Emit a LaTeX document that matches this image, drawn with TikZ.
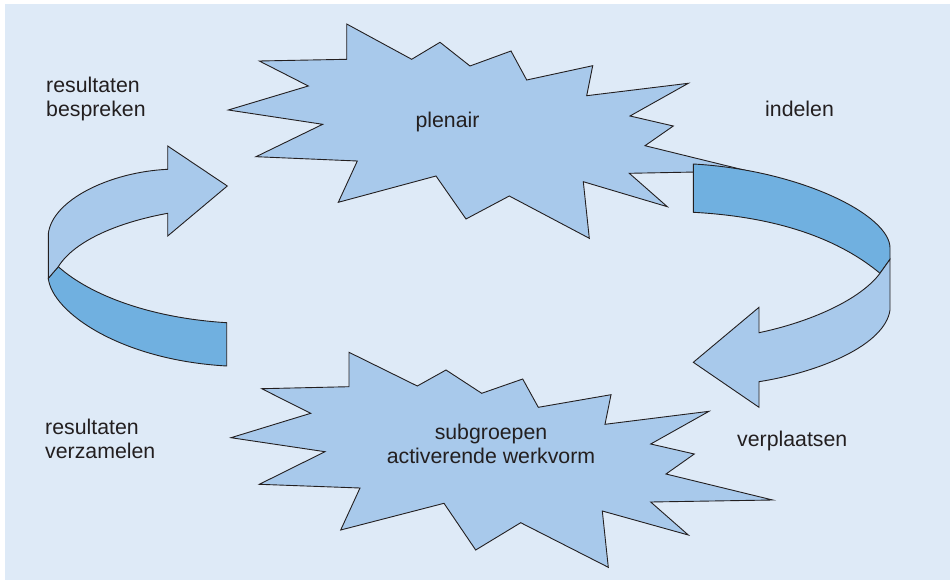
\documentclass[tikz,border=0pt]{standalone}
\usepackage{fontspec}
\setmainfont{Liberation Sans}
\definecolor{bgblue}{HTML}{DEEAF7}
\definecolor{lightband}{HTML}{A8C9EB}
\definecolor{darkband}{HTML}{70B0E0}
\definecolor{edgegray}{HTML}{231F20}
\begin{document}
\begin{tikzpicture}[x=1pt,y=-1pt,%
% common options for the star shapes:
burst/.style = {draw=edgegray, fill=lightband, line width=0.9pt, line join=miter},
% common options for the ribbon arrows:
ribbon/.style = {draw=edgegray, line width=0.9pt, line join=miter},
% common options for the labels:
word/.style = {inner sep=0, text=edgegray, font=\fontsize{21.3}{24}\selectfont}]
\useasboundingbox (0,0) rectangle (952,580);
\fill[white] (0,0) rectangle (952,580);
\fill[bgblue] (5,4) rectangle (950,580);
% upper star
\draw[burst] (346.7,24) -- (411.7,59.3) -- (440,42.3) -- (470,66) -- (511,51)
  -- (526.7,80) -- (592.7,65.7) -- (586.7,95.7) -- (688.3,83.3) -- (630,116)
  -- (673.3,126) -- (645,145.7) -- (748,171) -- (629.3,173.3) -- (667.3,206.7)
  -- (583.3,181.7) -- (589.3,238.3) -- (509.3,196) -- (466,219) -- (436,176)
  -- (338.3,202.3) -- (357.3,161) -- (256,156.7) -- (322.7,124.3) -- (228.3,110)
  -- (308.3,86) -- (259.3,61) -- (346.7,59.3) -- cycle;
% lower star
\draw[burst] (349,352.3) -- (417.3,386) -- (446,370) -- (481.7,393.3) -- (522.7,379)
  -- (538.3,407.3) -- (611,394.7) -- (605,424.3) -- (709,411.3) -- (650.7,444)
  -- (694.3,454) -- (666,474) -- (772.7,500) -- (650.7,502) -- (688.3,535)
  -- (602.3,511) -- (608.3,567.3) -- (520.7,522.7) -- (475.7,550) -- (444,503.3)
  -- (340.7,530) -- (360,488) -- (259.3,484.3) -- (325,451.7) -- (231,437.7)
  -- (310.7,413.3) -- (261.7,388.7) -- (349,386.7) -- cycle;
% right ribbon: back side, then front side with the head
\draw[ribbon, fill=darkband] (693.3,164) .. controls (800,170) and (890,215) .. (890,248)
  -- (890,259.3) -- (880,273.3) .. controls (840,240) and (780,217) .. (693.3,212.3) -- cycle;
\draw[ribbon, fill=lightband] (890,259.3) -- (890,310) .. controls (885,345) and (820,372) .. (759,381.7)
  -- (759,407.3) -- (693.3,362.3) -- (759,307.3) -- (759,332.7)
  .. controls (810,322) and (860,300) .. (880,273.3) -- cycle;
% left ribbon: back side, then front side with the head
\draw[ribbon, fill=darkband] (48.3,278.3) .. controls (52,312) and (120,360) .. (226.7,366)
  -- (226.7,322.7) .. controls (150,318) and (90,295) .. (58.3,266.7) -- cycle;
\draw[ribbon, fill=lightband] (48.3,278.3) -- (48.3,234) .. controls (52,200) and (110,172) .. (167.7,169.3)
  -- (167.7,146) -- (227.3,186) -- (167.7,236) -- (167.7,213.3)
  .. controls (120,222) and (75,240) .. (58.3,266.7) -- cycle;
% labels (base = baseline of the last line)
\node[word, anchor=base] (plenair) at (447.5,127.7) {plenair};
\node[word, anchor=base, align=center] (subgroepen) at (491,463.5) {subgroepen\\activerende werkvorm};
\node[word, anchor=base west, align=left] (bespreken) at (46,116.7) {resultaten\\bespreken};
\node[word, anchor=base west] (indelen) at (765,116.7) {indelen};
\node[word, anchor=base west] (verplaatsen) at (737,446) {verplaatsen};
\node[word, anchor=base west, align=left] (verzamelen) at (45,458) {resultaten\\verzamelen};
\end{tikzpicture}
\end{document}
